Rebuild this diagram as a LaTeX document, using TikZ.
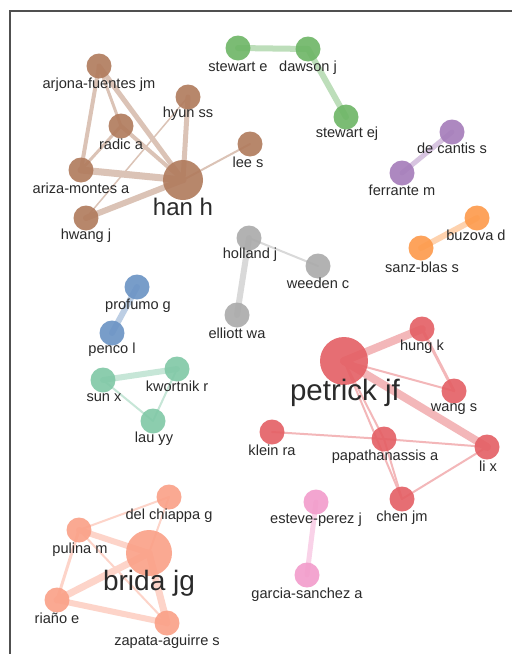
\documentclass[tikz,border=0pt]{standalone}
\usepackage{fontspec}
\setmainfont{Liberation Sans}
\usetikzlibrary{backgrounds}
\definecolor{brn}{HTML}{B07A5C}
\definecolor{grn}{HTML}{6DB565}
\definecolor{pur}{HTML}{A57CBA}
\definecolor{org}{HTML}{FD9A4B}
\definecolor{gry}{HTML}{AAAAAA}
\definecolor{blu}{HTML}{6A93C4}
\definecolor{tea}{HTML}{80C8A6}
\definecolor{rdd}{HTML}{E45F64}
\definecolor{pnk}{HTML}{F29CCB}
\definecolor{sal}{HTML}{FAA087}
\definecolor{txt}{HTML}{2A2A2A}
\definecolor{frm}{HTML}{505050}
\begin{document}
\begin{tikzpicture}[x=1pt,y=-1pt,
  nd/.style={circle,inner sep=0pt,minimum size=25pt,fill=#1,fill opacity=0.9,draw=none},
  lbl/.style={inner sep=0pt,text=txt,font=\fontsize{14.6}{15}\selectfont},
  big/.style={inner sep=0pt,text=txt,font=\fontsize{#1}{#1}\selectfont},
  ed/.style={draw=#1!45!white,line cap=round}]
\useasboundingbox (0,0) rectangle (512,654);
\draw[frm,line width=2pt] (10,654) -- (10,11) -- (512,11);

% brown cluster
\node[nd=brn] (arjona) at (99,66) {};
\node[nd=brn] (hyun) at (188,97) {};
\node[nd=brn] (radic) at (121,126) {};
\node[nd=brn] (lee) at (250,144) {};
\node[nd=brn] (ariza) at (81,170) {};
\node[nd=brn,minimum size=40pt] (han) at (183,180) {};
\node[nd=brn] (hwang) at (86,218) {};
\node[lbl] (arjonaL) at (99,85) {arjona-fuentes jm};
\node[lbl] (hyunL) at (188,114) {hyun ss};
\node[lbl] (radicL) at (121,144) {radic a};
\node[lbl] (leeL) at (248,162) {lee s};
\node[lbl] (arizaL) at (81,188) {ariza-montes a};
\node[big=24] (hanL) at (183,207) {han h};
\node[lbl] (hwangL) at (86,236) {hwang j};

% green cluster
\node[nd=grn] (stewe) at (238,48) {};
\node[nd=grn] (dawson) at (308,49) {};
\node[nd=grn] (stewej) at (346,117) {};
\node[lbl] (steweL) at (238,67) {stewart e};
\node[lbl] (dawsonL) at (308,68) {dawson j};
\node[lbl] (stewejL) at (347,134) {stewart ej};

% purple cluster
\node[nd=pur] (decantis) at (452,132) {};
\node[nd=pur] (ferrante) at (402,173) {};
\node[lbl] (decantisL) at (452,148) {de cantis s};
\node[lbl] (ferranteL) at (402,190) {ferrante m};

% orange cluster
\node[nd=org] (buzova) at (477,218) {};
\node[nd=org] (sanzblas) at (421,248) {};
\node[lbl] (buzovaL) at (476,235) {buzova d};
\node[lbl] (sanzblasL) at (422,267) {sanz-blas s};

% gray cluster
\node[nd=gry] (holland) at (249,238) {};
\node[nd=gry] (weeden) at (318,266) {};
\node[nd=gry] (elliott) at (237,315) {};
\node[lbl] (hollandL) at (250,255) {holland j};
\node[lbl] (weedenL) at (318,283) {weeden c};
\node[lbl] (elliottL) at (237,333) {elliott wa};

% blue cluster
\node[nd=blu] (profumo) at (137,287) {};
\node[nd=blu] (penco) at (112,333) {};
\node[lbl] (profumoL) at (138,306) {profumo g};
\node[lbl] (pencoL) at (112,350) {penco l};

% teal cluster
\node[nd=tea] (kwortnik) at (177,369) {};
\node[nd=tea] (sunx) at (103,380) {};
\node[nd=tea] (lauyy) at (153,421) {};
\node[lbl] (kwortnikL) at (177,386) {kwortnik r};
\node[lbl] (sunxL) at (104,398) {sun x};
\node[lbl] (lauyyL) at (154,439) {lau yy};

% red cluster
\node[nd=rdd,minimum size=48pt] (petrick) at (344,361) {};
\node[nd=rdd] (hung) at (422,329) {};
\node[nd=rdd] (wang) at (454,391) {};
\node[nd=rdd] (klein) at (272,432) {};
\node[nd=rdd] (papa) at (384,439) {};
\node[nd=rdd] (lix) at (487,447) {};
\node[nd=rdd] (chen) at (402,499) {};
\node[big=29.5] (petrickL) at (345,393) {petrick jf};
\node[lbl] (hungL) at (422,347) {hung k};
\node[lbl] (wangL) at (454,409) {wang s};
\node[lbl] (kleinL) at (272,450) {klein ra};
\node[lbl] (papaL) at (385,457) {papathanassis a};
\node[lbl] (lixL) at (488,466) {li x};
\node[lbl] (chenL) at (402,518) {chen jm};

% pink cluster
\node[nd=pnk] (esteve) at (316,502) {};
\node[nd=pnk] (garcia) at (307,575) {};
\node[lbl] (esteveL) at (316,520) {esteve-perez j};
\node[lbl] (garciaL) at (307,595) {garcia-sanchez a};

% salmon cluster
\node[nd=sal] (delchiappa) at (169,497) {};
\node[nd=sal] (pulina) at (79,530) {};
\node[nd=sal,minimum size=46pt] (brida) at (149,553) {};
\node[nd=sal] (riano) at (57,600) {};
\node[nd=sal] (zapata) at (167,623) {};
\node[lbl] (delchiappaL) at (169,516) {del chiappa g};
\node[lbl] (pulinaL) at (80,550) {pulina m};
\node[big=28] (bridaL) at (149,583) {brida jg};
\node[lbl] (rianoL) at (57,618) {riaño e};
\node[lbl] (zapataL) at (167,642) {zapata-aguirre s};

\begin{pgfonlayer}{background}
\fill[white] (0,0) rectangle (512,654);
% brown edges
\draw[ed=brn,line width=4pt] (arjona.center) -- (ariza.center);
\draw[ed=brn,line width=3pt] (arjona.center) -- (radic.center);
\draw[ed=brn,line width=5pt] (arjona.center) -- (han.center);
\draw[ed=brn,line width=4pt] (radic.center) -- (han.center);
\draw[ed=brn,line width=3pt] (radic.center) -- (ariza.center);
\draw[ed=brn,line width=5pt] (hyun.center) -- (han.center);
\draw[ed=brn,line width=1.5pt] (hyun.center) -- (hwang.center);
\draw[ed=brn,line width=2pt] (lee.center) -- (han.center);
\draw[ed=brn,line width=7pt] (ariza.center) -- (han.center);
\draw[ed=brn,line width=6pt] (hwang.center) -- (han.center);
% green edges
\draw[ed=grn,line width=6pt] (stewe.center) -- (dawson.center);
\draw[ed=grn,line width=6pt] (dawson.center) -- (stewej.center);
% purple
\draw[ed=pur,line width=5pt] (decantis.center) -- (ferrante.center);
% orange
\draw[ed=org,line width=6pt] (buzova.center) -- (sanzblas.center);
% gray
\draw[ed=gry,line width=2pt] (holland.center) -- (weeden.center);
\draw[ed=gry,line width=6pt] (holland.center) -- (elliott.center);
% blue
\draw[ed=blu,line width=6pt] (profumo.center) -- (penco.center);
% teal
\draw[ed=tea,line width=6pt] (sunx.center) -- (kwortnik.center);
\draw[ed=tea,line width=2pt] (sunx.center) -- (lauyy.center);
\draw[ed=tea,line width=2pt] (kwortnik.center) -- (lauyy.center);
% red
\draw[ed=rdd,line width=8pt] (petrick.center) -- (hung.center);
\draw[ed=rdd,line width=2pt] (petrick.center) -- (wang.center);
\draw[ed=rdd,line width=8pt] (petrick.center) -- (lix.center);
\draw[ed=rdd,line width=2pt] (petrick.center) -- (papa.center);
\draw[ed=rdd,line width=2pt] (petrick.center) -- (chen.center);
\draw[ed=rdd,line width=2pt] (papa.center) -- (chen.center);
\draw[ed=rdd,line width=3pt] (hung.center) -- (wang.center);
\draw[ed=rdd,line width=2pt] (klein.center) -- (papa.center);
\draw[ed=rdd,line width=2pt] (papa.center) -- (lix.center);
\draw[ed=rdd,line width=2pt] (lix.center) -- (chen.center);
% pink
\draw[ed=pnk,line width=5pt] (esteve.center) -- (garcia.center);
% salmon
\draw[ed=sal,line width=2pt] (pulina.center) -- (delchiappa.center);
\draw[ed=sal,line width=2pt] (delchiappa.center) -- (brida.center);
\draw[ed=sal,line width=6pt] (pulina.center) -- (brida.center);
\draw[ed=sal,line width=3pt] (pulina.center) -- (riano.center);
\draw[ed=sal,line width=2pt] (pulina.center) -- (zapata.center);
\draw[ed=sal,line width=7pt] (riano.center) -- (brida.center);
\draw[ed=sal,line width=6pt] (riano.center) -- (zapata.center);
\draw[ed=sal,line width=7pt] (brida.center) -- (zapata.center);
\end{pgfonlayer}
\end{tikzpicture}
\end{document}
